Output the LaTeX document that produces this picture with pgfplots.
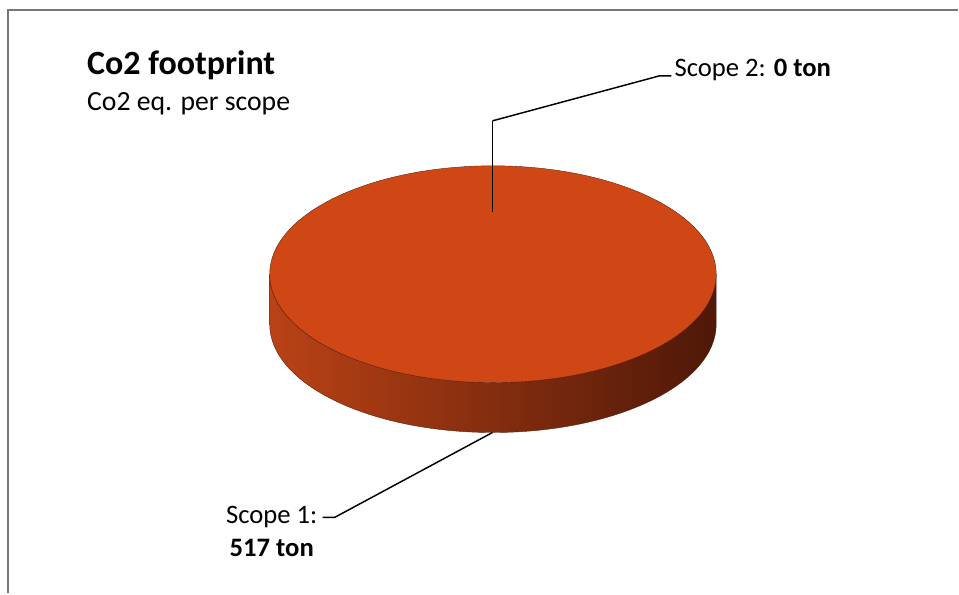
\documentclass[border=0pt]{standalone}
\usepackage{pgfplots}
\pgfplotsset{compat=1.18}
\usepackage{pgfplotstable}
\usepackage{fontspec}
\setmainfont{Carlito}

\definecolor{pietop}{RGB}{208,71,22}
\definecolor{sideL}{RGB}{186,66,22}
\definecolor{sideM}{RGB}{122,42,14}
\definecolor{sideR}{RGB}{78,24,8}
\definecolor{pieedge}{RGB}{90,30,10}
\definecolor{frame}{RGB}{118,118,118}

% scope values (ton)
\pgfplotstableread{
scope value
1 517
2 0
}\scopedata

\begin{document}
\begin{tikzpicture}
\pgfplotstablegetelem{0}{value}\of\scopedata \let\va\pgfplotsretval
\pgfplotstablegetelem{1}{value}\of\scopedata \let\vb\pgfplotsretval
\pgfmathsetmacro{\share}{\va/(\va+\vb)}
\pgfmathsetmacro{\sweep}{360*\share}
\begin{axis}[
    scale only axis,
    width=719.25pt, height=445.5pt,
    xmin=0, xmax=959, ymin=0, ymax=594,
    hide axis, clip=false,
]
\path (axis cs:0,0) rectangle (axis cs:959,594);
% frame
\draw[frame, line width=1.6pt] (axis cs:8,0) -- (axis cs:8,584) -- (axis cs:959,584);

% side wall of the pie
\shade[left color=sideL, middle color=sideM, right color=sideR, draw=pieedge, line width=0.3pt]
  (axis cs:270,319.5) arc[start angle=180, end angle=360, x radius=167.625pt, y radius=81.375pt]
  -- ++(0,-37.5pt)
  arc[start angle=0, end angle=-180, x radius=167.625pt, y radius=81.375pt] -- cycle;
% top face: Scope 1 takes the full turn
\fill[pietop, draw=pieedge, line width=0.3pt]
  (axis cs:493.5,319.5) -- ++(90:81.375pt)
  arc[start angle=90, end angle=90-\sweep, x radius=167.625pt, y radius=81.375pt] -- cycle;
\fill[pietop] (axis cs:493.5,319.5) ellipse[x radius=167pt, y radius=81pt];

% leader lines
\draw[black, line width=0.6pt] (axis cs:493,382) -- (axis cs:493,473);
\draw[black, line width=1.1pt] (axis cs:493,473) -- (axis cs:660,518) -- (axis cs:672,518);
\draw[black, line width=1.1pt] (axis cs:493,161) -- (axis cs:335,76) -- (axis cs:323,76);

% texts
\node[anchor=base west, inner sep=0pt, font=\fontsize{25.5}{30}\selectfont\bfseries] at (axis cs:87,519) {Co2 footprint};
\node[anchor=base west, inner sep=0pt, font=\fontsize{20.8}{24}\selectfont] at (axis cs:87,483) {Co2 eq. per scope};
\node[anchor=base west, inner sep=0pt, font=\fontsize{20}{24}\selectfont] at (axis cs:675,517) {Scope 2: \textbf{0 ton}};
\node[anchor=base, inner sep=0pt, font=\fontsize{20}{24}\selectfont] at (axis cs:272,70) {Scope 1:};
\node[anchor=base, inner sep=0pt, font=\fontsize{20}{24}\selectfont\bfseries] at (axis cs:272,37) {517 ton};
\end{axis}
\end{tikzpicture}
\end{document}
